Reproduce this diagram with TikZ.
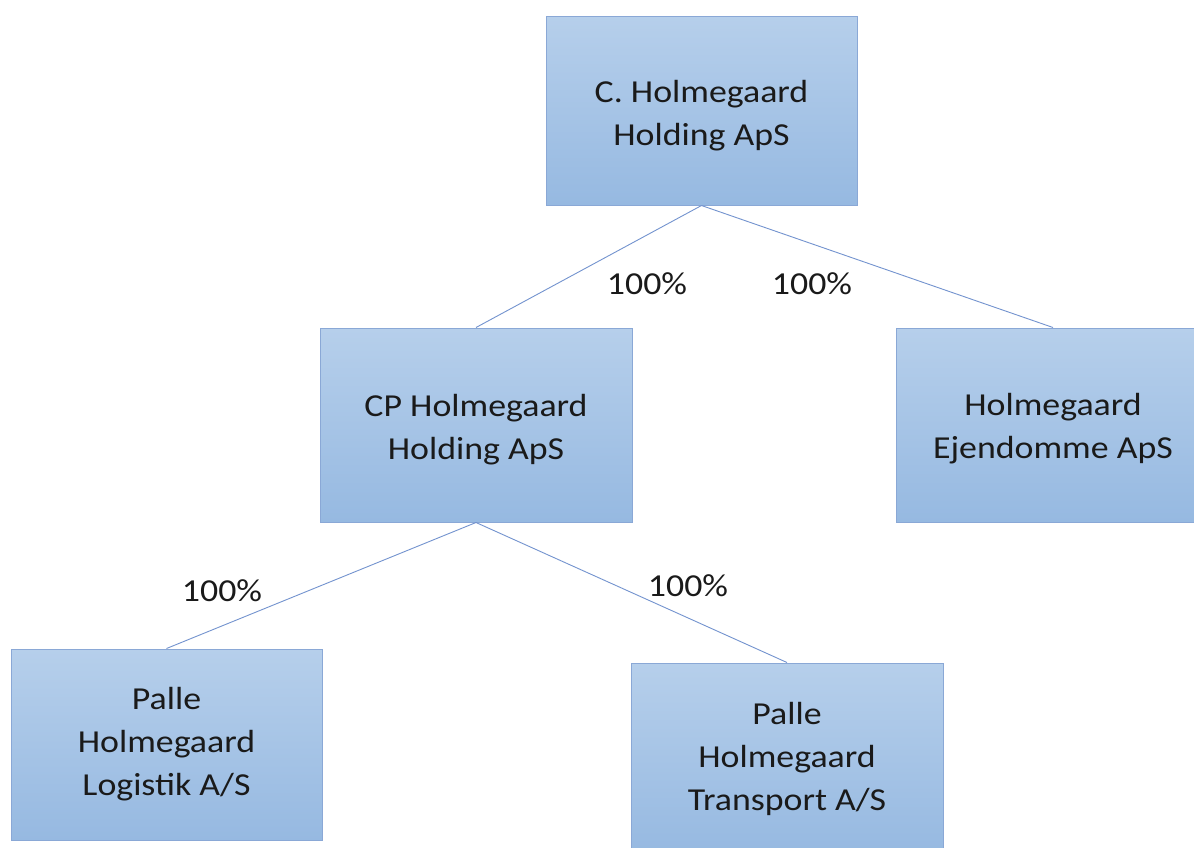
\documentclass[tikz,border=0pt]{standalone}
\usepackage{fontspec}
\setmainfont{Carlito}[FakeStretch=1.12]
\definecolor{boxtop}{HTML}{B6CFEB}
\definecolor{boxbot}{HTML}{96B9E1}
\definecolor{boxline}{HTML}{8AA8D6}
\definecolor{conn}{HTML}{7393CF}
\definecolor{txt}{HTML}{1A1A1A}
\tikzset{
  orgbox/.style={rectangle, draw=boxline, line width=1pt, top color=boxtop, bottom color=boxbot,
    minimum width=311pt, minimum height=190pt, align=center, inner sep=0pt,
    font=\fontsize{32}{43}\selectfont, text=txt},
  boxtext/.style={align=center, inner sep=0pt, font=\fontsize{32}{43}\selectfont, text=txt},
  conline/.style={draw=conn, line width=0.9pt},
  pct/.style={font=\fontsize{32}{38}\selectfont, text=txt, inner sep=0pt}
}
\newcommand{\upstrut}{\rule{0pt}{32pt}}
\begin{document}
\begin{tikzpicture}[x=1pt,y=-1pt]
\useasboundingbox (0,0) rectangle (1194,847);
\fill[white] (0,0) rectangle (1194,847);
\clip (0,0) rectangle (1194,847);
\node[orgbox, minimum height=189pt] (top) at (701.5,110.5) {\upstrut C. Holmegaard\\Holding ApS};
\node[orgbox, minimum width=312pt, minimum height=194pt] (cp) at (476,425) {\upstrut CP Holmegaard\\Holding ApS};
\node[orgbox, minimum width=340pt, minimum height=194pt] (ej) at (1066,425) {};
\node[boxtext] (ejt) at (1053,429) {Holmegaard\\Ejendomme ApS};
\node[orgbox, minimum height=191pt] (log) at (166.5,744.5) {Palle\\Holmegaard\\Logistik A/S};
\node[orgbox, minimum width=312pt, minimum height=191pt] (tr) at (787,758.5) {Palle\\Holmegaard\\Transport A/S};
\draw[conline] (top.south) -- (cp.north);
\draw[conline] (top.south) -- (ejt |- ej.north);
\draw[conline] (cp.south) -- (log.north);
\draw[conline] (cp.south) -- (tr.north);
\node[pct] (p1) at (647,284) {100\%};
\node[pct] (p2) at (812,284) {100\%};
\node[pct] (p3) at (222,591) {100\%};
\node[pct] (p4) at (688,586) {100\%};
\end{tikzpicture}
\end{document}
